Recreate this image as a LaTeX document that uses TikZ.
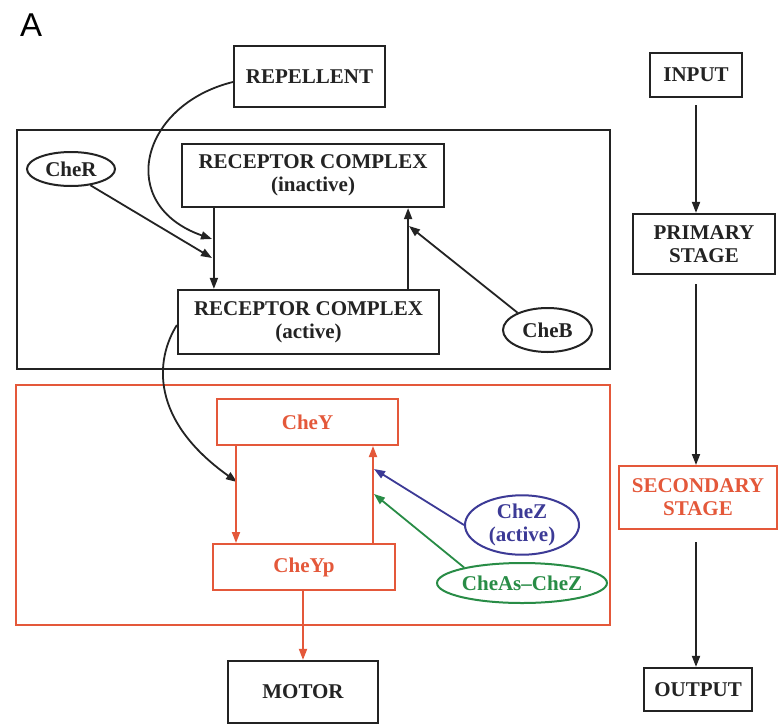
\documentclass[tikz,border=0pt]{standalone}
\usepackage{fontspec}
\setmainfont{Liberation Serif}
\newfontfamily\labelfont{Liberation Sans}
\usetikzlibrary{arrows.meta,shapes.geometric,calc}
\definecolor{cred}{RGB}{228,88,58}
\definecolor{cblue}{RGB}{60,58,150}
\definecolor{cgreen}{RGB}{40,140,70}
\definecolor{cink}{RGB}{35,35,35}
\begin{document}
\begin{tikzpicture}[x=1pt,y=-1pt,
 txt/.style={font=\fontsize{21}{23}\selectfont\bfseries, align=center, text=cink},
 box/.style={txt, draw=cink, line width=2.2pt, inner sep=0pt},
 rbox/.style={box, draw=cred, text=cred, line width=2pt},
 oval/.style={txt, ellipse, draw=cink, line width=2pt, inner sep=0pt},
 frame/.style={draw=cink, line width=2.2pt, inner sep=0pt},
 arr/.style={draw=cink, line width=1.8pt, -{Triangle[length=11pt,width=8pt]}},
 rarr/.style={arr, draw=cred},
 barr/.style={arr, draw=cblue},
 garr/.style={arr, draw=cgreen},
]
\useasboundingbox (0,0) rectangle (783,725);
\fill[white] (0,0) rectangle (783,725);

% containers
\node[frame, minimum width=593pt, minimum height=239pt] (primframe) at (313.5,249.5) {};
\node[frame, draw=cred, line width=2pt, minimum width=594pt, minimum height=240pt] (secframe) at (313,505) {};

% label
\node[anchor=base west, inner sep=0pt, text=black, font=\labelfont\fontsize{33}{33}\selectfont] (lblA) at (20,37) {A};

% left column nodes
\node[box, minimum width=151pt, minimum height=61pt] (rep) at (309.5,76.5) {REPELLENT};
\node[box, minimum width=262pt, minimum height=63pt] (inact) at (313,175.5) {RECEPTOR COMPLEX\\(inactive)};
\node[box, minimum width=261pt, minimum height=64pt] (act) at (308.5,322) {RECEPTOR COMPLEX\\(active)};
\node[oval, minimum width=88pt, minimum height=34pt] (cheR) at (71,169) {CheR};
\node[oval, minimum width=89pt, minimum height=44pt] (cheB) at (547.5,330) {CheB};
\node[rbox, minimum width=181pt, minimum height=46pt] (cheY) at (307.5,422) {CheY};
\node[rbox, minimum width=182pt, minimum height=46pt] (cheYp) at (304,567) {CheYp};
\node[oval, draw=cblue, text=cblue, minimum width=114pt, minimum height=52pt] (cheZ) at (522,525) {CheZ\\(active)};
\node[oval, draw=cgreen, text=cgreen, minimum width=152pt, minimum height=40pt] (cheAs) at (522,583) {CheAs–CheZ};
\node[box, minimum width=150pt, minimum height=62pt] (motor) at (303,692) {MOTOR};

% right column nodes
\node[box, minimum width=92pt, minimum height=44pt] (inp) at (696,75) {INPUT};
\node[box, minimum width=142pt, minimum height=60pt] (prim) at (704,244) {PRIMARY\\STAGE};
\node[rbox, minimum width=158pt, minimum height=63pt] (sec) at (698,497.5) {SECONDARY\\STAGE};
\node[box, minimum width=108pt, minimum height=43pt] (out) at (698,689.5) {OUTPUT};

% free arrow ends
\coordinate (repTip) at (212,239);
\coordinate (cherTip) at (212,258);
\coordinate (chebTip) at (409,226);
\coordinate (chezTip) at (374,469);
\coordinate (casTip) at (374,494);
\coordinate (cheyTip) at (237,482);

% primary stage connectors
\draw[arr] ([yshift=-5.5pt]rep.west) .. controls (140,105) and (115,205) .. (repTip);
\draw[arr] (cheR.-40) -- (cherTip);
\draw[arr] ([xshift=33pt]inact.south west) -- ([xshift=33pt]inact.south west |- act.north);
\draw[arr] ([xshift=-32pt]act.north east) -- ([xshift=-32pt]act.north east |- inact.south);
\draw[arr] (cheB.150) -- (chebTip);
\draw[arr] ([yshift=-3pt]act.west) .. controls (155,360) and (150,420) .. (cheyTip);

% secondary stage connectors
\draw[rarr] ([xshift=20pt]cheY.south west) -- ([xshift=20pt]cheY.south west |- cheYp.north);
\draw[rarr] ([xshift=-23pt]cheYp.north east) -- ([xshift=-23pt]cheYp.north east |- cheY.south);
\draw[barr] (cheZ.west) -- (chezTip);
\draw[garr] (cheAs.165) -- (casTip);
\draw[rarr] (motor.north |- cheYp.south) -- (motor.north);

% right column connectors
\draw[arr] ($(inp.south)+(0,7)$) -- (inp.south |- prim.north);
\draw[arr] ($(inp.south |- prim.south)+(0,9)$) -- (inp.south |- sec.north);
\draw[arr] ($(inp.south |- sec.south)+(0,12)$) -- (inp.south |- out.north);
\end{tikzpicture}
\end{document}
